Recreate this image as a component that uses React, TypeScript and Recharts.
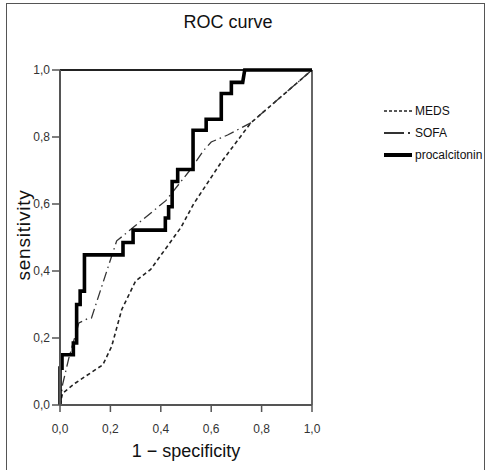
import { LineChart, Line, XAxis, YAxis, ReferenceLine, Label } from 'recharts';

// =============================================================================
// Data
// =============================================================================

const axisTicks = [0, 0.2, 0.4, 0.6, 0.8, 1];

const seriesNames = ['MEDS', 'SOFA', 'procalcitonin'];

// MEDS score
const medsFpr = [0, 0.01, 0.06, 0.17, 0.205, 0.245, 0.3, 0.36, 0.48, 0.53, 0.64, 0.757, 1];
const medsTpr = [0, 0.035, 0.065, 0.12, 0.175, 0.285, 0.37, 0.405, 0.53, 0.6, 0.725, 0.842, 1];

// SOFA score
const sofaFpr = [0, 0.01, 0.035, 0.075, 0.11, 0.125, 0.2, 0.225, 0.25, 0.42, 0.48, 0.52, 0.57, 0.6, 0.665, 0.757, 1];
const sofaTpr = [0, 0.06, 0.14, 0.245, 0.258, 0.26, 0.433, 0.49, 0.505, 0.61, 0.667, 0.705, 0.76, 0.785, 0.806, 0.842, 1];

// procalcitonin (step curve)
const pctFpr = [
  0, 0, 0.008, 0.008, 0.053, 0.053, 0.066, 0.066, 0.08, 0.08, 0.097, 0.097, 0.25, 0.25, 0.29, 0.29,
  0.418, 0.418, 0.431, 0.431, 0.445, 0.445, 0.467, 0.467, 0.528, 0.528, 0.58, 0.58, 0.64, 0.64,
  0.68, 0.68, 0.725, 0.733, 1,
];
const pctTpr = [
  0, 0.11, 0.11, 0.15, 0.15, 0.185, 0.185, 0.3, 0.3, 0.34, 0.34, 0.448, 0.448, 0.485, 0.485, 0.522,
  0.522, 0.558, 0.558, 0.592, 0.592, 0.667, 0.667, 0.703, 0.703, 0.82, 0.82, 0.853, 0.853, 0.93,
  0.93, 0.963, 0.963, 1, 1,
];

// =============================================================================
// Styles
// =============================================================================

const FONT = '"Liberation Sans", Arial, sans-serif';

const SERIES_STYLE = [
  { stroke: '#222', strokeWidth: 1.6, dash: '4 3' },
  { stroke: '#333', strokeWidth: 1.3, dash: '10 4 1.5 4' },
  { stroke: '#000', strokeWidth: 3.6, dash: undefined },
];

const toPoints = (xs: number[], ys: number[]) => xs.map((x, i) => ({ x, y: ys[i] }));

const seriesData = [
  toPoints(medsFpr, medsTpr),
  toPoints(sofaFpr, sofaTpr),
  toPoints(pctFpr, pctTpr),
];

const fmt = (v: number) => v.toFixed(1).replace('.', ',');

// =============================================================================
// Component
// =============================================================================

export default function App() {
  return (
    <div style={{ position: 'absolute', left: 0, top: 0, width: 487, height: 470, background: '#fff', fontFamily: FONT }}>
      {/* outer frame */}
      <div
        style={{
          position: 'absolute',
          left: 6,
          top: 3,
          width: 479,
          height: 480,
          border: '1px solid #555',
          boxSizing: 'border-box',
        }}
      />

      <div
        style={{
          position: 'absolute',
          left: 128,
          top: 13,
          width: 200,
          textAlign: 'center',
          fontSize: 18,
          lineHeight: '18px',
          color: '#111',
        }}
      >
        ROC curve
      </div>

      <div style={{ position: 'absolute', left: 0, top: 0 }}>
        <LineChart width={487} height={470} margin={{ top: 70, right: 175, bottom: 35, left: 0 }}>
          <XAxis
            dataKey="x"
            type="number"
            domain={[0, 1]}
            ticks={axisTicks}
            tickFormatter={fmt}
            height={30}
            tickSize={7}
            tickMargin={12}
            axisLine={{ stroke: '#555', strokeWidth: 2 }}
            tickLine={{ stroke: '#555', strokeWidth: 1.5 }}
            tick={{ fill: '#333', fontSize: 12, fontFamily: FONT }}
          >
            <Label
              value="1 − specificity"
              position="bottom"
              offset={9}
              style={{ fontSize: 18, fill: '#111', fontFamily: FONT }}
            />
          </XAxis>
          <YAxis
            dataKey="y"
            type="number"
            domain={[0, 1]}
            ticks={axisTicks}
            tickFormatter={fmt}
            width={60}
            tickSize={8}
            tickMargin={2}
            axisLine={{ stroke: '#555', strokeWidth: 2 }}
            tickLine={{ stroke: '#555', strokeWidth: 1.5 }}
            tick={{ fill: '#333', fontSize: 12, fontFamily: FONT }}
          >
            <Label
              content={() => (
                <text
                  x={23}
                  y={235}
                  transform="rotate(-90, 23, 235)"
                  textAnchor="middle"
                  dominantBaseline="central"
                  style={{ fontSize: 19, fill: '#111', fontFamily: FONT, letterSpacing: 0.8 }}
                >
                  sensitivity
                </text>
              )}
            />
          </YAxis>

          <ReferenceLine y={1} stroke="#222" strokeWidth={2} />
          <ReferenceLine x={1} stroke="#666" strokeWidth={2} />

          {seriesData.map((data, i) => (
            <Line
              key={seriesNames[i]}
              data={data}
              dataKey="y"
              name={seriesNames[i]}
              type="linear"
              stroke={SERIES_STYLE[i].stroke}
              strokeWidth={SERIES_STYLE[i].strokeWidth}
              strokeDasharray={SERIES_STYLE[i].dash}
              strokeLinejoin="miter"
              strokeLinecap="butt"
              dot={false}
              activeDot={false}
              isAnimationActive={false}
            />
          ))}
        </LineChart>
      </div>

      {/* legend */}
      <div style={{ position: 'absolute', left: 384, top: 100, fontSize: 12, color: '#111', lineHeight: '22px' }}>
        {seriesNames.map((name, i) => (
          <div key={name} style={{ display: 'flex', alignItems: 'center', height: 22 }}>
            <svg width={28} height={8} style={{ marginRight: 3 }}>
              <line
                x1={0}
                y1={4}
                x2={28}
                y2={4}
                stroke={SERIES_STYLE[i].stroke}
                strokeWidth={i === 2 ? 4 : i === 1 ? 2 : 1.6}
                strokeDasharray={i === 0 ? '3 2' : i === 1 ? '20 4 2 10' : undefined}
              />
            </svg>
            <span>{name}</span>
          </div>
        ))}
      </div>
    </div>
  );
}
